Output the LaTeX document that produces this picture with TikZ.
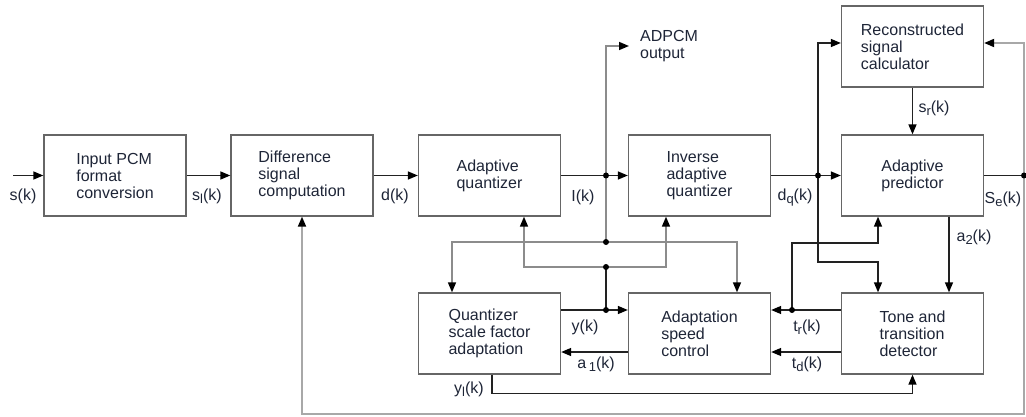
\documentclass[tikz,border=0pt]{standalone}
\usepackage{fontspec}
\setmainfont{Liberation Sans}
\usetikzlibrary{arrows.meta}
\newcommand\sbs[1]{\raisebox{-0.35ex}{\fontsize{13}{13}\selectfont #1}}
\definecolor{txt}{HTML}{1E2537}
\definecolor{edge}{HTML}{666666}
\definecolor{wire}{HTML}{222222}
\definecolor{gwire}{HTML}{8C8C8C}
\definecolor{lwire}{HTML}{A8A8A8}
\begin{document}
\begin{tikzpicture}[x=1pt,y=-1pt,
 blk/.style={draw=edge, line width=1.3pt, minimum width=142pt, minimum height=81pt, inner sep=0pt, align=left, text=txt, font=\fontsize{16}{17}\selectfont},
 lbl/.style={text=txt, font=\fontsize{16}{17}\selectfont, inner sep=0pt},
 tip/.style={-{Triangle[length=10pt,width=8pt,color=black]}},
 arr/.style={draw=wire, line width=1.4pt, tip},
 garr/.style={draw=gwire, line width=1.6pt, tip},
 larr/.style={draw=lwire, line width=1.8pt, tip},
 wr/.style={draw=wire, line width=1.4pt},
 gwr/.style={draw=gwire, line width=1.6pt}]
\useasboundingbox (0,0) rectangle (1026,417);

% blocks
\node[blk] (ipc) at (115,175.5) {Input PCM\\format\\conversion};
\node[blk] (dsc) at (302,175.5) {Difference\\signal\\computation};
\node[blk] (aq)  at (489.5,175.5) {Adaptive\\quantizer};
\node[blk] (iaq) at (699.5,175.5) {Inverse\\adaptive\\quantizer};
\node[blk] (ap)  at (912.5,175.5) {Adaptive\\predictor};
\node[blk] (rsc) at (912.5,46.5) {Reconstructed\\signal\\calculator};
\node[blk] (qsf) at (489.5,333.5) {Quantizer\\scale factor\\adaptation};
\node[blk] (asc) at (699.5,333.5) {Adaptation\\speed\\control};
\node[blk] (ttd) at (912.5,333.5) {Tone and\\transition\\detector};

% junctions and free ends
\coordinate (j1) at (606,175.5);
\coordinate (j2) at (606,242);
\coordinate (j3) at (606,267);
\coordinate (j4) at (606,310);
\coordinate (j5) at (818,175.5);
\coordinate (j6) at (792,310);
\coordinate (j7) at (1024,175.5);
\coordinate (in) at (13,175.5);
\coordinate (outtip) at (629,46);

% main path
\draw[arr] (in) -- (ipc.west);
\draw[arr] (ipc.east) -- (dsc.west);
\draw[arr] (dsc.east) -- (aq.west);
\draw[wr] (aq.east) -- (j1);
\draw[arr] (j1) -- (iaq.west);
\draw[garr] (j1) |- (outtip);
\draw[gwr] (j1) -- (j2);
\draw[garr] (j2) -| ([xshift=-37.5pt]qsf.north);
\draw[garr] (j2) -| ([xshift=37.5pt]asc.north);
\draw[garr] (j3) -| ([xshift=34.5pt]aq.south);
\draw[garr] (j3) -| ([xshift=-33.5pt]iaq.south);
\draw[wr] (j3) -- (j4);
\draw[wr] ([yshift=23.5pt]qsf.east) -- (j4);
\draw[arr] (j4) -- ([yshift=23.5pt]asc.west);
\draw[arr] ([yshift=-18.5pt]asc.west) -- ([yshift=-18.5pt]qsf.east);
\draw[arr] ([xshift=2.5pt]qsf.south) -- ++(0,19) -| (ttd.south);
\draw[wr] (iaq.east) -- (j5);
\draw[arr] (j5) -- (ap.west);
\draw[arr] (j5) |- ([yshift=3.5pt]rsc.west);
\draw[arr] (j5) -- ++(0,86.5) -| ([xshift=-34.5pt]ttd.north);
\draw[arr] (rsc.south) -- (ap.north);
\draw[arr] ([xshift=36.5pt]ap.south) -- ([xshift=36.5pt]ttd.north);
\draw[wr] ([yshift=23.5pt]ttd.west) -- (j6);
\draw[arr] (j6) -- ([yshift=23.5pt]asc.east);
\draw[arr] (j6) -- ++(0,-67) -| ([xshift=-34.5pt]ap.south);
\draw[arr] ([yshift=-18.5pt]ttd.west) -- ([yshift=-18.5pt]asc.east);
\draw[wr] (ap.east) -- (j7);
\draw[larr] (j7) |- ([yshift=3.5pt]rsc.east);
\draw[larr] (j7) -- ++(0,238.5) -| (dsc.south);

% dots
\foreach \j in {j1,j2,j3,j4,j5,j6,j7} \fill[black] (\j) circle (3pt);

% labels
\node[lbl] (ls)  at (23,196) {s(k)};
\node[lbl] (lsl) at (207,196) {s\sbs{l}(k)};
\node[lbl] (ld)  at (395,196) {d(k)};
\node[lbl] (li)  at (583,197) {I(k)};
\node[lbl] (ldq) at (795,198) {d\sbs{q}(k)};
\node[lbl] (lse) at (1003,199) {S\sbs{e}(k)};
\node[lbl] (lsr) at (934,108) {s\sbs{r}(k)};
\node[lbl] (la2) at (974,237) {a\sbs{2}(k)};
\node[lbl] (ltr) at (807,327) {t\sbs{r}(k)};
\node[lbl] (ltd) at (807,364) {t\sbs{d}(k)};
\node[lbl] (ly)  at (585,327) {y(k)};
\node[lbl] (la1) at (596,364) {a\,\sbs{1}(k)};
\node[lbl] (lyl) at (469,389) {y\sbs{l}(k)};
\node[lbl, anchor=west, align=left] (out) at (640,46) {ADPCM\\output};
\end{tikzpicture}
\end{document}
